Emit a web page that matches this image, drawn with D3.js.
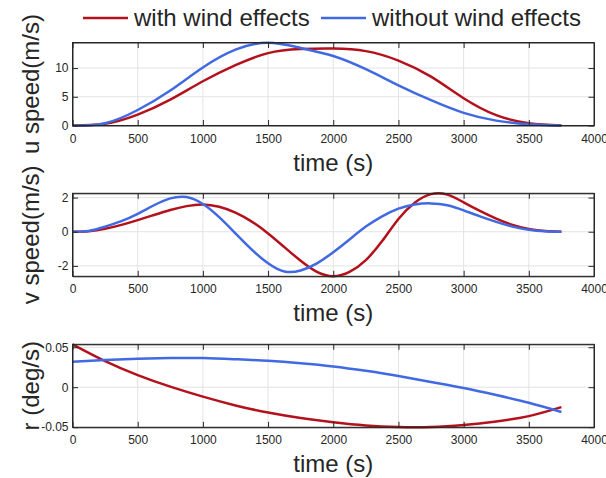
<!DOCTYPE html>
<html>
<head>
<meta charset="utf-8">
<script src="https://cdn.jsdelivr.net/npm/d3@7"></script>
<style>
  html, body { margin: 0; padding: 0; background: #fff; }
  svg { display: block; }
  text { font-family: "Liberation Sans", Arial, Helvetica, sans-serif; fill: #262626; }
</style>
</head>
<body>
<svg id="chart" width="606" height="478"></svg>
<script>
// Sample times (s) for the u and r series
const time = [0, 250, 500, 750, 1000, 1250, 1500, 1750, 2000, 2250, 2500, 2750, 3000, 3250, 3500, 3750];
// Finer sample times (s) for the v series
const vTime = [0, 125, 250, 375, 500, 625, 750, 875, 1000, 1125, 1250, 1375, 1500, 1625, 1750, 1875,
               2000, 2125, 2250, 2375, 2500, 2625, 2750, 2875, 3000, 3125, 3250, 3375, 3500, 3625, 3750];

// u speed (m/s)
const uWithWind    = [0, 0.3, 1.9, 4.5, 7.7, 10.5, 12.6, 13.3, 13.4, 12.95, 11.3, 8.5, 4.75, 1.8, 0.4, 0];
const uWithoutWind = [0, 0.4, 2.7, 6.1, 10.1, 13.2, 14.4, 13.5, 12.1, 9.8, 7.0, 4.4, 2.2, 0.85, 0.2, 0];

// v speed (m/s)
const vWithWind    = [0, 0.03, 0.17, 0.4, 0.68, 0.98, 1.27, 1.5, 1.6, 1.46, 1.12, 0.59, -0.1, -0.9, -1.7, -2.35,
                      -2.6, -2.35, -1.66, -0.55, 0.75, 1.7, 2.2, 2.17, 1.72, 1.22, 0.77, 0.4, 0.16, 0.04, 0];
const vWithoutWind = [0, 0.05, 0.3, 0.62, 1.05, 1.55, 1.95, 2.03, 1.62, 0.85, -0.1, -1.05, -1.85, -2.33, -2.27, -1.85,
                      -1.2, -0.45, 0.3, 0.9, 1.35, 1.6, 1.66, 1.55, 1.25, 0.9, 0.58, 0.3, 0.12, 0.03, 0];

// r (deg/s)
const rWithWind    = [0.0537, 0.0327, 0.0152, 0.0007, -0.0118, -0.0228, -0.0318, -0.0386, -0.0438, -0.0478, -0.0498, -0.0498, -0.0472, -0.0428, -0.0362, -0.025];
const rWithoutWind = [0.032, 0.034, 0.0355, 0.0365, 0.0365, 0.035, 0.033, 0.030, 0.026, 0.0205, 0.014, 0.0065, -0.001, -0.0098, -0.0195, -0.031];

// Axis limits and ticks
const timeDomain = [0, 4000];
const timeTicks = [0, 500, 1000, 1500, 2000, 2500, 3000, 3500, 4000];
const uDomain = [0, 14.45];
const vDomain = [-2.61, 2.25];
const rDomain = [-0.0502, 0.0537];
const uTicks = [0, 5, 10];
const vTicks = [-2, 0, 2];
const rTicks = [-0.05, 0, 0.05];

const seriesNames = ["with wind effects", "without wind effects"];
const colors = ["#b3121c", "#4169e1"];

const panels = [
  { label: "u speed(m/s)", t: time,  series: [uWithWind, uWithoutWind], domain: uDomain, ticks: uTicks },
  { label: "v speed(m/s)", t: vTime, series: [vWithWind, vWithoutWind], domain: vDomain, ticks: vTicks },
  { label: "r (deg/s)",    t: time,  series: [rWithWind, rWithoutWind], domain: rDomain, ticks: rTicks }
];

const svg = d3.select("#chart");
const left = 72.5, right = 594, panelH = 83;
const tops = [42.5, 193.3, 344.3];
const tick = 5.5;

const x = d3.scaleLinear().domain(timeDomain).range([left, right]);

panels.forEach((p, i) => {
  const top = tops[i], bottom = top + panelH;
  const y = d3.scaleLinear().domain(p.domain).range([bottom, top]);
  const g = svg.append("g");

  // grid
  g.append("g").selectAll("line").data(timeTicks.slice(1, -1)).join("line")
    .attr("x1", d => x(d)).attr("x2", d => x(d)).attr("y1", top).attr("y2", bottom)
    .attr("stroke", "#e3e3e3").attr("stroke-width", 1);
  g.append("g").selectAll("line").data(p.ticks).join("line")
    .attr("x1", left).attr("x2", right).attr("y1", d => y(d)).attr("y2", d => y(d))
    .attr("stroke", "#e3e3e3").attr("stroke-width", 1);

  // data lines
  const line = d3.line().x((d, k) => x(p.t[k])).y(d => y(d)).curve(d3.curveNatural);
  p.series.forEach((s, k) => {
    g.append("path").datum(s).attr("d", line)
      .attr("fill", "none").attr("stroke", colors[k]).attr("stroke-width", 2.5)
      .attr("stroke-linejoin", "round").attr("stroke-linecap", "butt");
  });

  // box axes with inward ticks
  const styleAxis = sel => {
    sel.select(".domain").attr("stroke", "#262626").attr("stroke-width", 1);
    sel.selectAll(".tick line").attr("stroke", "#262626");
    sel.selectAll("text").attr("fill", "#262626").style("font-size", "12px")
      .style("font-family", "'Liberation Sans', Arial, Helvetica, sans-serif");
  };
  g.append("g").attr("transform", `translate(0,${bottom})`)
    .call(d3.axisBottom(x).tickValues(timeTicks).tickSizeInner(-tick).tickSizeOuter(0).tickPadding(8.5).tickFormat(d3.format("")))
    .call(styleAxis);
  g.append("g").attr("transform", `translate(0,${top})`)
    .call(d3.axisTop(x).tickValues(timeTicks).tickSizeInner(-tick).tickSizeOuter(0).tickFormat(""))
    .call(styleAxis);
  g.append("g").attr("transform", `translate(${left},0)`)
    .call(d3.axisLeft(y).tickValues(p.ticks).tickSizeInner(-tick).tickSizeOuter(0).tickPadding(4).tickFormat(d => String(d)))
    .call(styleAxis);
  g.append("g").attr("transform", `translate(${right},0)`)
    .call(d3.axisRight(y).tickValues(p.ticks).tickSizeInner(-tick).tickSizeOuter(0).tickFormat(""))
    .call(styleAxis);
  g.append("rect").attr("x", left).attr("y", top).attr("width", right - left).attr("height", panelH)
    .attr("fill", "none").attr("stroke", "#262626").attr("stroke-width", 1);

  // axis titles
  g.append("text").attr("x", (left + right) / 2).attr("y", bottom + 45)
    .attr("text-anchor", "middle").style("font-size", "24px").text("time (s)");
  g.append("text").attr("transform", `translate(39,${(top + bottom) / 2}) rotate(-90)`)
    .attr("text-anchor", "middle").style("font-size", "24px").text(p.label);
});

// legend
const legendX = [83, 321];
legendX.forEach((lx, k) => {
  svg.append("line").attr("x1", lx).attr("x2", lx + 45).attr("y1", 18).attr("y2", 18)
    .attr("stroke", colors[k]).attr("stroke-width", 2.5);
  svg.append("text").attr("x", lx + 51).attr("y", 26).style("font-size", "24px").text(seriesNames[k]);
});
</script>
</body>
</html>
